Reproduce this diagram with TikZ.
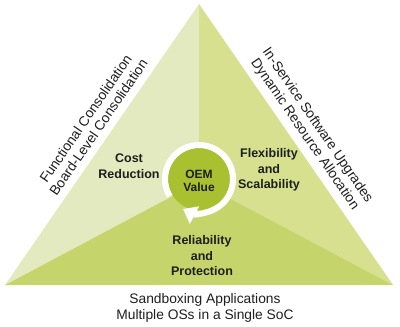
\documentclass[tikz,border=0pt]{standalone}
\usepackage{fontspec}
\setmainfont{Liberation Sans}
\usepackage{tikz}
\usetikzlibrary{arrows.meta,calc,positioning}
\definecolor{paleleaf}{HTML}{E4EABF}
\definecolor{midleaf}{HTML}{D6E08F}
\definecolor{deepleaf}{HTML}{C6D56B}
\definecolor{hubleaf}{HTML}{A9C131}
\definecolor{inkgray}{HTML}{1E1E1E}
\tikzset{
  sidelabel/.style={text=inkgray, align=center, font=\fontsize{13.8}{15.5}\selectfont, inner sep=0pt},
  partlabel/.style={text=inkgray, align=center, font=\bfseries\fontsize{12.5}{15.5}\selectfont, inner sep=0pt},
  hublabel/.style={text=inkgray, align=center, font=\bfseries\fontsize{12}{13.5}\selectfont, inner sep=0pt}
}

\begin{document}
\begin{tikzpicture}[x=1pt, y=-1pt]
\useasboundingbox (0,0) rectangle (400,327);
% corners of the triangle and its middle
\coordinate (apex) at (199,4);
\coordinate (bl) at (5,285);
\coordinate (br) at (393,285);
\coordinate (mid) at (199,182);
\fill[paleleaf] (apex) -- (mid) -- (bl) -- cycle;
\fill[midleaf] (apex) -- (br) -- (mid) -- cycle;
\fill[deepleaf] (bl) -- (mid) -- (br) -- cycle;
% hub with circular arrow
\coordinate (hub) at (199,179);
\fill[hubleaf] (hub) circle (31);
\draw[white, line width=6pt, -{Triangle[width=19pt, length=13pt]}]
  ($(hub)+(150:34)$) arc (150:478:34);
\node[hublabel] (oem) at (199,181) {OEM\\Value};
% parts of the triangle
\node[partlabel] (cost) at (129,166) {Cost\\Reduction};
\node[partlabel] (flex) at (269,170) {Flexibility\\and\\Scalability};
\node[partlabel] (rel) at (202,256) {Reliability\\and\\Protection};
% labels along the sides
\node[sidelabel, rotate=55.5] (lside) at (92,123) {Functional Consolidation\\Board-Level Consolidation};
\node[sidelabel, rotate=-55.5] (rside) at (311,130) {In-Service Software Upgrades\\Dynamic Resource Allocation};
\node[sidelabel] (bside) at (205,308) {Sandboxing Applications\\Multiple OSs in a Single SoC};
\end{tikzpicture}
\end{document}
